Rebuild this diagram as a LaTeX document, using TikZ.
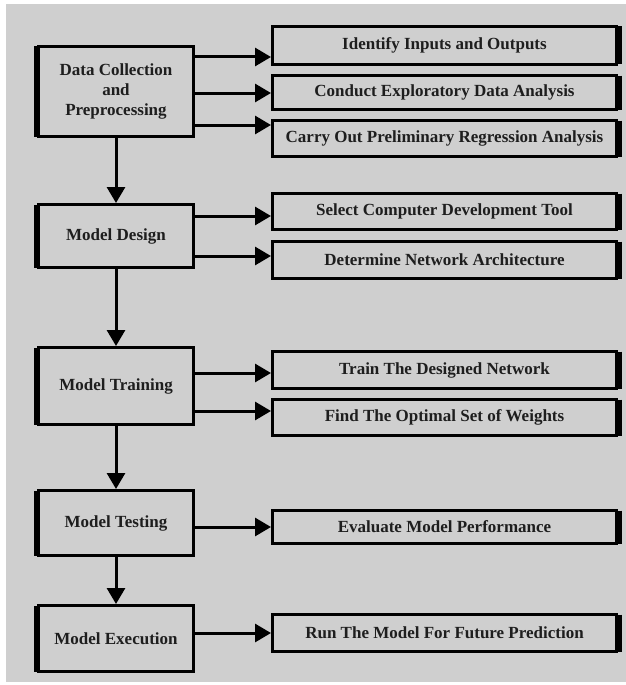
\documentclass[tikz,border=0pt]{standalone}
\usepackage{fontspec}
\setmainfont{Liberation Serif}
\usetikzlibrary{arrows.meta}
\definecolor{bggray}{HTML}{CFCFCF}
\definecolor{txt}{HTML}{1E1E1E}
\tikzset{
  leftbox/.style={draw=black, fill=bggray, line width=3pt, inner sep=0pt,
    minimum width=155pt, align=center, text=txt,
    font=\fontsize{17}{20}\selectfont\bfseries},
  rightbox/.style={draw=black, fill=bggray, line width=3pt, inner sep=0pt,
    minimum width=344pt, align=center, text=txt,
    font=\fontsize{17}{20}\selectfont\bfseries},
  arr/.style={line width=3pt, -{Triangle[length=16pt,width=18pt]}},
  thickl/.style={line width=5pt, line cap=butt},
}
\begin{document}
\begin{tikzpicture}[x=1pt,y=-1pt]
\useasboundingbox (0,0) rectangle (626,685);
\fill[bggray] (6,4) rectangle (626,682);

% left column
\node[leftbox, minimum height=90pt] (L1) at (116,91.5) {Data Collection\\and\\Preprocessing};
\node[leftbox, minimum height=63pt] (L2) at (116,236) {Model Design};
\node[leftbox, minimum height=77pt] (L3) at (116,386) {Model Training};
\node[leftbox, minimum height=65pt] (L4) at (116,523) {Model Testing};
\node[leftbox, minimum height=66pt] (L5) at (116,638.5) {Model Execution};

% right column
\node[rightbox, minimum height=38pt] (R1) at (444.5,45.5) {Identify Inputs and Outputs};
\node[rightbox, minimum height=34pt] (R2) at (444.5,92.5) {Conduct Exploratory Data Analysis};
\node[rightbox, minimum height=36pt] (R3) at (444.5,138.5) {Carry Out Preliminary Regression Analysis};
\node[rightbox, minimum height=36pt] (R4) at (444.5,211.5) {Select Computer Development Tool};
\node[rightbox, minimum height=37pt] (R5) at (444.5,260) {Determine Network Architecture};
\node[rightbox, minimum height=37pt] (R6) at (444.5,370) {Train The Designed Network};
\node[rightbox, minimum height=36pt] (R7) at (444.5,417.5) {Find The Optimal Set of Weights};
\node[rightbox, minimum height=33pt] (R8) at (444.5,527) {Evaluate Model Performance};
\node[rightbox, minimum height=37pt] (R9) at (444.5,633) {Run The Model For Future Prediction};

% heavier shadow edges
\foreach \n in {L1,L2,L3,L4,L5}{
  \draw[thickl] ([shift={(-1pt,-1.5pt)}]\n.north west) -- ([shift={(-1pt,1.5pt)}]\n.south west);
}
\foreach \n in {R1,R2,R3,R4,R5,R6,R7,R8,R9}{
  \draw[thickl] ([shift={(1pt,-1.5pt)}]\n.north east) -- ([shift={(1pt,1.5pt)}]\n.south east);
}

% horizontal arrows
\draw[arr] (L1.east |- 0,57) -- (R1.west |- 0,57);
\draw[arr] (L1.east |- 0,93) -- (R2.west |- 0,93);
\draw[arr] (L1.east |- 0,125) -- (R3.west |- 0,125);
\draw[arr] (L2.east |- 0,216) -- (R4.west |- 0,216);
\draw[arr] (L2.east |- 0,256) -- (R5.west |- 0,256);
\draw[arr] (L3.east |- 0,373) -- (R6.west |- 0,373);
\draw[arr] (L3.east |- 0,411) -- (R7.west |- 0,411);
\draw[arr] (L4.east |- 0,527) -- (R8.west |- 0,527);
\draw[arr] (L5.east |- 0,633) -- (R9.west |- 0,633);

% vertical arrows
\draw[arr] (L1.south) -- (L2.north);
\draw[arr] (L2.south) -- (L3.north);
\draw[arr] (L3.south) -- (L4.north);
\draw[arr] (L4.south) -- (L5.north);
\end{tikzpicture}
\end{document}
